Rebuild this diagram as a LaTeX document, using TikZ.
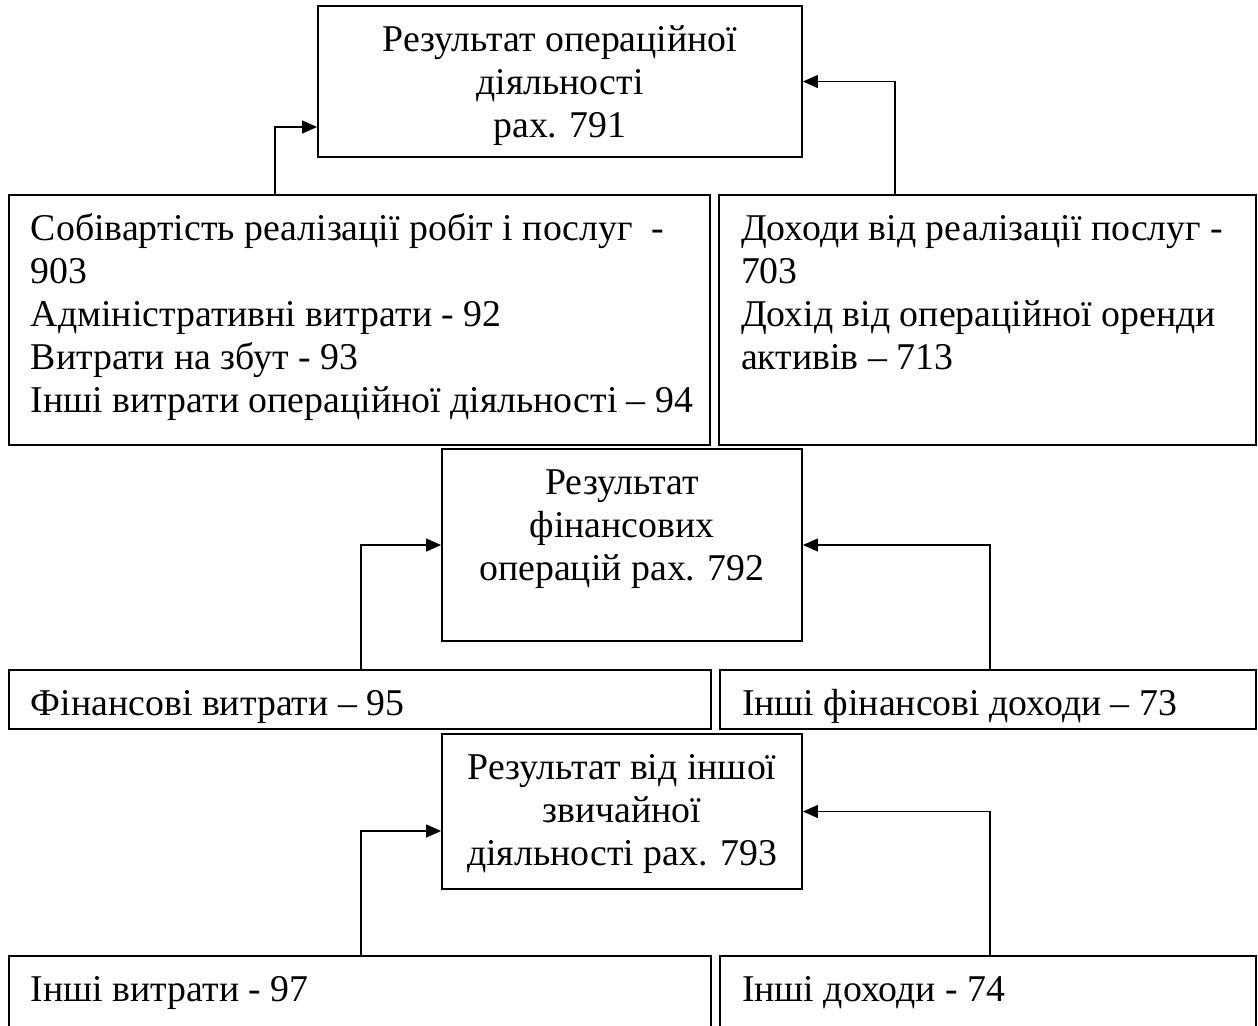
\documentclass[tikz,border=0pt]{standalone}
\usepackage{fontspec}
\setmainfont{Liberation Serif}
\usepackage{tikz}
\usetikzlibrary{positioning}
\usetikzlibrary{calc}
\usetikzlibrary{arrows.meta}
\pgfdeclarelayer{nodelayer}
\pgfdeclarelayer{edgelayer}
\pgfsetlayers{edgelayer,nodelayer,main}
\tikzset{blk/.style={draw, line width=0.9pt, inner sep=0pt, font=\fontsize{18.9pt}{21.5pt}\selectfont}}
\tikzset{feed/.style={line width=0.6pt, -{Triangle[length=7.5pt,width=6.5pt]}}}
\newcommand{\cell}[3]{\begin{minipage}[t][#2][t]{#1}\vspace*{7.5pt}#3\end{minipage}}
\newcommand{\lft}{\leftskip=11pt\rightskip=0pt plus 1fil\parfillskip=0pt plus 1fil\parindent=0pt\strut}

\begin{document}
\begin{tikzpicture}[x=0.5pt, y=-0.5pt]
    \useasboundingbox (0,0) rectangle (1258,1025);
    			\begin{pgfonlayer}{nodelayer}
    				\clip (0,0) rectangle (1258,1025);
    				% results
    				\node [style=blk] (0) at (560, 81.5) {\cell{242pt}{75.5pt}{\centering\strut Результат операційної\\ діяльності\\ рах. 791}};
    				\node [style=blk] (3) at (622, 545) {\cell{180pt}{96pt}{\centering\strut Результат\\ фінансових\\ операцій рах. 792}};
    				\node [style=blk] (6) at (622, 811.5) {\cell{180pt}{77.5pt}{\centering\strut Результат від іншої\\ звичайної\\ діяльності рах. 793}};
    				% costs
    				\node [style=blk] (1) at (359.5, 320) {\cell{350.5pt}{125pt}{\lft Собівартість реалізації робіт і послуг\ \ -\\ 903\\ Адміністративні витрати - 92\\ Витрати на збут - 93\\ Інші витрати операційної діяльності – 94}};
    				\node [style=blk] (4) at (360, 699.5) {\cell{351pt}{29.5pt}{\lft Фінансові витрати – 95}};
    				\node [style=blk] (7) at (360, 1006) {\cell{351pt}{50pt}{\lft Інші витрати - 97}};
    				% incomes
    				\node [style=blk] (2) at (987.5, 320) {\cell{268.5pt}{125pt}{\leftskip=-1pt\lft Доходи від реалізації послуг -\\ 703\\ Дохід від операційної оренди\\ активів – 713}};
    				\node [style=blk] (5) at (988, 699.5) {\cell{268pt}{29.5pt}{\lft Інші фінансові доходи – 73}};
    				\node [style=blk] (8) at (988, 1006) {\cell{268pt}{50pt}{\lft Інші доходи - 74}};
    				% bends
    				\coordinate (9) at (275, 127);
    				\coordinate (10) at (895, 82);
    				\coordinate (11) at (361, 546);
    				\coordinate (12) at (990, 545);
    				\coordinate (13) at (361, 831);
    			\end{pgfonlayer}
    			\begin{pgfonlayer}{edgelayer}
    				\draw [style=feed] (1.north -| 9) -- (9) -- (0.west |- 9);
    				\draw [style=feed] (2.north -| 10) |- (0.east);
    				\draw [style=feed] (4.north -| 11) |- (3.west);
    				\draw [style=feed] (5.north -| 12) |- (3.east);
    				\draw [style=feed] (7.north -| 13) -- (13) -- (6.west |- 13);
    				\draw [style=feed] (8.north -| 12) |- (6.east);
    			\end{pgfonlayer}
\end{tikzpicture}
\end{document}
